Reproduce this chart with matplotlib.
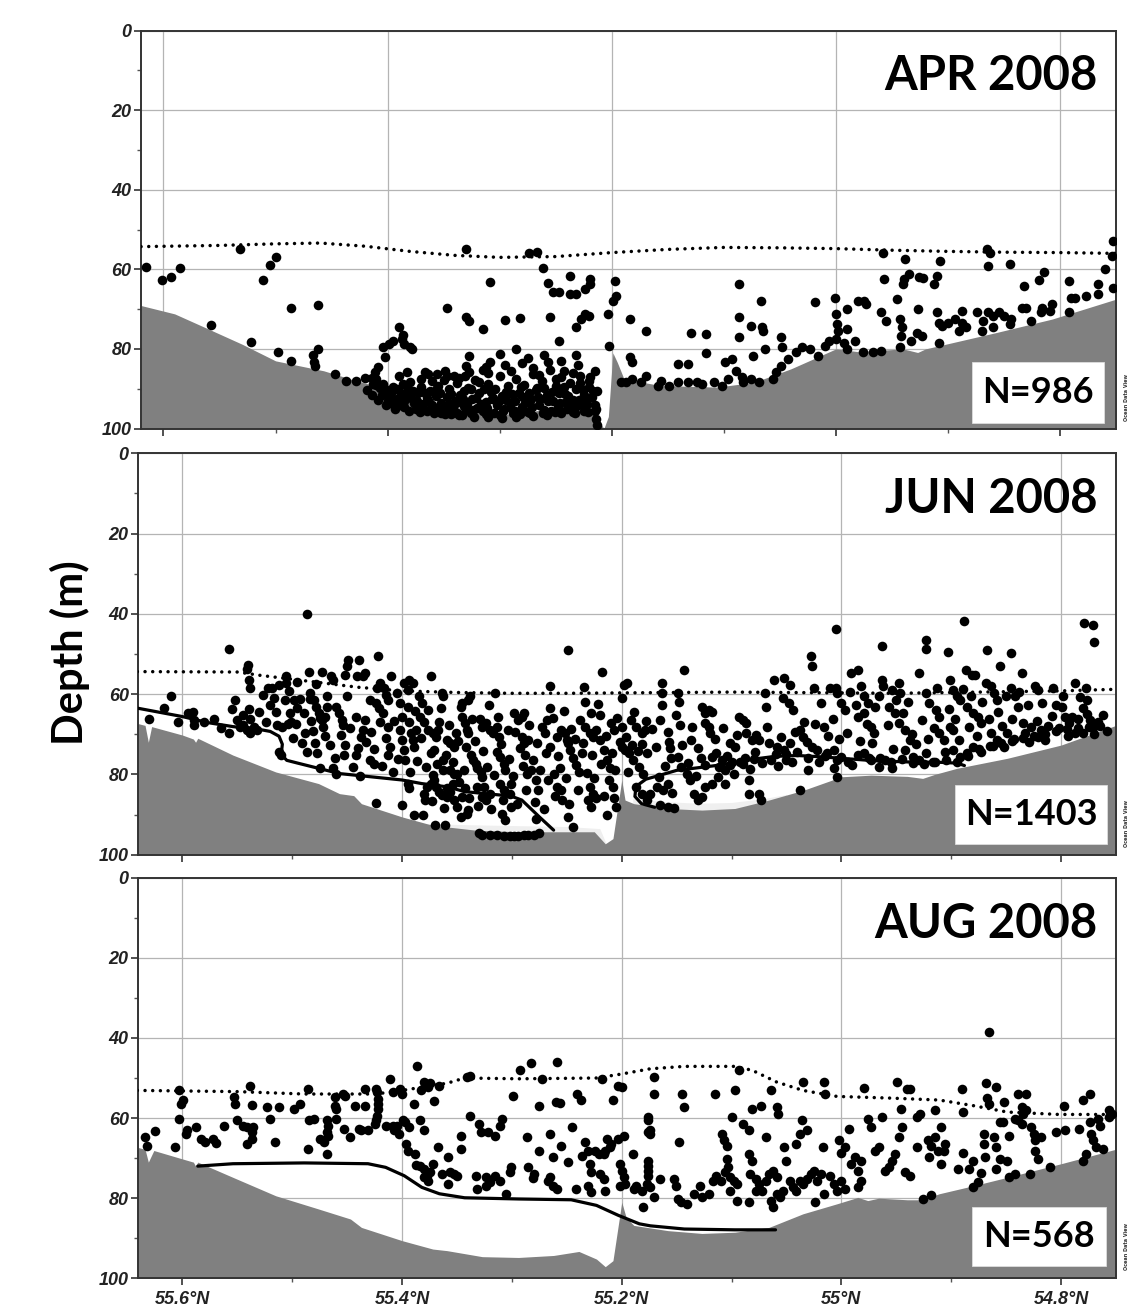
import numpy as np
import matplotlib.pyplot as plt
from matplotlib.patches import Rectangle
from matplotlib.ticker import MultipleLocator, FuncFormatter

# ---------------- APR 2008 ----------------
apr_points = [
    (55.616, 59.4), (55.601, 62.6), (55.593, 62.0), (55.585, 59.7), (55.558, 74.1), (55.532, 54.8),
    (55.522, 78.3), (55.511, 62.8), (55.505, 58.9), (55.500, 56.9), (55.498, 80.7), (55.486, 69.8),
    (55.486, 83.0), (55.467, 81.6), (55.466, 83.2), (55.465, 84.4), (55.462, 68.9), (55.462, 80.0),
    (55.447, 86.3), (55.437, 88.0), (55.428, 88.0), (55.420, 87.2), (55.414, 87.2), (55.411, 85.9),
    (55.409, 84.6), (55.413, 88.8), (55.404, 79.6), (55.402, 82.1), (55.399, 78.8), (55.395, 77.9),
    (55.390, 74.6), (55.387, 77.5), (55.385, 78.8), (55.380, 79.6), (55.378, 80.0), (55.386, 76.5),
    (55.404, 88.8), (55.404, 91.4), (55.398, 90.5), (55.392, 90.1), (55.386, 88.8), (55.383, 85.9),
    (55.367, 85.9), (55.364, 86.3), (55.356, 86.3), (55.349, 85.5), (55.347, 86.7), (55.341, 86.7),
    (55.336, 87.2), (55.331, 86.7), (55.330, 72.0), (55.327, 72.9), (55.347, 69.7), (55.330, 54.8),
    (55.327, 81.7), (55.327, 85.9), (55.315, 75.0), (55.309, 63.2), (55.312, 84.6), (55.309, 83.4),
    (55.295, 72.7), (55.282, 72.2), (55.274, 55.9), (55.267, 55.7), (55.261, 59.7), (55.257, 63.4),
    (55.255, 72.1), (55.252, 65.8), (55.247, 65.8), (55.237, 66.2), (55.232, 66.2), (55.237, 61.7),
    (55.247, 77.9), (55.232, 74.6), (55.227, 72.5), (55.224, 71.3), (55.220, 71.7), (55.224, 65.0),
    (55.219, 62.5), (55.219, 63.7), (55.214, 95.0), (55.214, 97.6), (55.213, 99.2),
    (55.203, 71.3), (55.202, 79.2), (55.199, 67.9), (55.196, 66.7), (55.197, 62.9), (55.184, 72.5),
    (55.184, 82.1), (55.182, 83.4), (55.169, 75.4), (55.129, 76.1), (55.116, 76.3), (55.116, 81.0),
    (55.086, 63.7), (55.086, 72.1), (55.086, 77.1), (55.076, 74.2), (55.067, 67.9), (55.066, 74.6),
    (55.065, 75.6), (55.049, 77.1), (55.048, 79.6), (55.019, 68.3), (55.001, 67.1), (55.000, 71.3),
    (54.999, 73.8), (54.998, 75.4), (54.990, 75.0), (54.990, 70.0), (54.980, 67.9), (54.975, 67.9),
    (54.973, 68.8), (54.960, 70.8), (54.955, 72.9), (54.943, 72.5), (54.941, 74.6), (54.957, 62.5),
    (54.945, 67.5), (54.940, 63.7), (54.939, 62.5), (54.935, 61.2), (54.926, 62.0), (54.922, 62.3),
    (54.938, 57.5), (54.958, 55.8), (54.927, 70.0), (54.928, 75.9), (54.923, 76.7), (54.942, 76.7),
    (54.933, 77.9), (54.910, 61.7), (54.912, 63.7), (54.907, 57.9), (54.910, 70.8), (54.908, 73.4),
    (54.905, 74.2), (54.900, 73.4), (54.908, 78.4), (54.894, 72.5), (54.890, 75.4), (54.887, 73.4),
    (54.884, 74.6), (54.887, 70.4), (54.874, 70.8), (54.870, 75.4), (54.869, 72.9), (54.864, 70.8),
    (54.860, 71.7), (54.860, 74.6), (54.854, 70.8), (54.850, 71.7), (54.845, 73.8), (54.844, 72.5),
    (54.865, 55.0), (54.862, 55.8), (54.864, 59.1), (54.845, 58.6), (54.834, 69.6), (54.832, 64.2),
    (54.830, 69.6), (54.826, 72.9), (54.819, 62.7), (54.814, 60.8), (54.817, 70.8), (54.816, 69.6),
    (54.809, 70.4), (54.807, 68.8), (54.792, 62.9), (54.792, 70.8), (54.790, 67.1), (54.787, 67.1),
    (54.777, 66.7), (54.766, 63.7), (54.766, 66.2), (54.760, 59.8), (54.754, 56.6), (54.753, 52.9),
    (54.753, 64.6),
    (55.192, 88.4), (55.187, 88.4), (55.182, 87.6), (55.174, 88.4), (55.169, 86.7), (55.159, 89.2),
    (55.156, 88.0), (55.149, 89.2), (55.141, 88.4), (55.141, 83.8), (55.132, 83.8), (55.132, 88.4),
    (55.124, 88.4), (55.119, 88.8), (55.109, 88.4), (55.102, 89.2), (55.096, 87.6), (55.099, 83.4),
    (55.093, 82.5), (55.089, 85.5), (55.084, 87.1), (55.083, 88.4), (55.076, 87.6), (55.069, 88.4),
    (55.074, 81.7), (55.063, 80.0), (55.056, 87.6), (55.053, 85.9), (55.049, 84.2), (55.043, 82.5),
    (55.036, 80.9), (55.030, 79.6), (55.023, 80.0), (55.016, 81.7), (55.010, 79.2), (55.006, 77.9),
    (55.000, 77.5), (54.993, 78.4), (54.990, 80.0), (54.983, 77.9), (54.976, 80.9), (54.967, 80.9),
    (54.960, 80.5), (54.943, 79.6),
    # dense patch on the bottom of the basin
    (55.405, 91.5), (55.402, 90.0), (55.398, 92.0), (55.395, 89.5), (55.392, 92.6), (55.388, 91.0),
    (55.385, 93.0), (55.382, 90.2), (55.379, 92.4), (55.376, 93.6), (55.373, 91.2), (55.370, 89.6),
    (55.368, 93.9), (55.365, 92.3), (55.362, 90.5), (55.360, 94.2), (55.357, 91.8), (55.355, 89.3),
    (55.352, 93.5), (55.350, 94.6), (55.347, 92.0), (55.345, 90.1), (55.342, 95.0), (55.340, 93.1),
    (55.338, 88.6), (55.335, 91.5), (55.332, 94.3), (55.330, 95.4), (55.328, 89.9), (55.325, 92.6),
    (55.322, 87.8), (55.320, 94.8), (55.318, 91.0), (55.315, 95.7), (55.312, 93.4), (55.310, 88.9),
    (55.308, 90.8), (55.305, 96.0), (55.302, 94.0), (55.300, 86.9), (55.298, 91.8), (55.296, 95.2),
    (55.293, 89.4), (55.290, 93.6), (55.288, 96.1), (55.285, 87.5), (55.283, 91.1), (55.280, 94.7),
    (55.278, 89.0), (55.275, 95.8), (55.272, 92.5), (55.270, 86.2), (55.268, 90.3), (55.265, 94.2),
    (55.262, 88.0), (55.260, 95.3), (55.258, 91.6), (55.255, 85.4), (55.252, 93.0), (55.250, 89.2),
    (55.248, 94.6), (55.245, 87.1), (55.242, 91.4), (55.240, 95.0), (55.237, 88.5), (55.235, 92.8),
    (55.232, 90.0), (55.230, 94.2), (55.228, 86.8), (55.225, 91.7), (55.222, 93.8), (55.220, 89.5),
    (55.218, 92.2), (55.215, 94.0), (55.410, 89.0), (55.400, 93.2), (55.390, 94.0), (55.380, 88.3),
    (55.370, 94.6), (55.360, 88.0), (55.355, 95.1), (55.345, 93.8), (55.338, 96.0), (55.332, 90.6),
    (55.326, 96.2), (55.318, 88.4), (55.312, 96.4), (55.306, 92.3), (55.300, 96.6), (55.294, 92.9),
    (55.286, 95.5), (55.279, 92.0), (55.273, 96.0), (55.266, 92.2), (55.260, 89.8), (55.254, 95.5),
    (55.247, 91.2), (55.241, 93.3), (55.234, 95.2), (55.228, 88.5), (55.224, 95.0), (55.219, 87.0),
    (55.213, 90.5), (55.330, 84.4), (55.315, 85.2), (55.295, 84.0), (55.280, 83.6), (55.270, 84.8),
    (55.257, 83.2), (55.243, 85.6), (55.230, 84.0), (55.215, 85.5), (55.395, 93.8), (55.385, 94.5),
    (55.375, 95.2), (55.365, 95.6), (55.352, 96.0), (55.343, 96.4), (55.334, 96.7), (55.323, 97.0),
    (55.310, 97.2), (55.298, 97.3), (55.285, 97.0), (55.270, 96.8), (55.258, 96.6), (55.245, 96.0),
    (55.235, 95.8), (55.225, 95.5), (55.215, 95.6),
    (55.418, 90.4), (55.414, 91.6), (55.409, 92.8), (55.407, 89.9), (55.401, 94.0), (55.397, 91.2),
    (55.393, 95.0), (55.389, 92.9), (55.384, 91.8), (55.381, 95.5), (55.377, 90.6), (55.374, 93.1),
    (55.371, 95.8), (55.367, 91.0), (55.363, 93.3), (55.359, 96.0), (55.356, 89.8), (55.353, 91.2),
    (55.349, 96.3), (55.346, 94.7), (55.343, 91.4), (55.339, 93.7), (55.336, 96.6), (55.333, 92.5),
    (55.329, 93.9), (55.326, 90.2), (55.324, 95.3), (55.321, 92.4), (55.317, 93.8), (55.314, 90.1),
    (55.311, 94.9), (55.307, 92.5), (55.304, 90.2), (55.301, 93.2), (55.297, 95.7), (55.294, 90.9),
    (55.291, 94.5), (55.289, 91.4), (55.286, 93.0), (55.282, 96.4), (55.281, 89.6), (55.277, 93.5),
    (55.274, 91.0), (55.271, 94.7), (55.267, 89.9), (55.264, 92.5), (55.261, 96.2), (55.257, 93.1),
    (55.253, 90.8), (55.251, 95.9), (55.246, 93.7), (55.243, 89.5), (55.239, 91.9), (55.236, 94.1),
    (55.233, 96.0), (55.229, 92.8), (55.226, 90.4), (55.223, 93.0), (55.221, 95.9), (55.217, 90.6),
    (55.410, 87.5), (55.390, 86.9), (55.370, 87.5), (55.350, 87.9), (55.310, 86.0), (55.290, 85.6),
    (55.265, 86.5), (55.250, 87.5), (55.235, 86.0), (55.220, 88.0), (55.300, 81.2), (55.285, 80.0),
    (55.275, 82.2), (55.260, 81.5), (55.245, 83.0), (55.232, 81.5),
]
apr_bottom = [
    (55.62, 69.1), (55.59, 71.2), (55.567, 74.1), (55.53, 78.8), (55.50, 83.0), (55.457, 85.5),
    (55.428, 88.0), (55.40, 90.1), (55.368, 93.0), (55.338, 94.7), (55.309, 96.5), (55.28, 96.3),
    (55.255, 94.8), (55.235, 94.5), (55.218, 95.5), (55.212, 98.0), (55.207, 100.0), (55.203, 97.0),
    (55.199, 81.0), (55.195, 83.4), (55.189, 87.6), (55.156, 89.2), (55.106, 89.6), (55.073, 88.4),
    (55.04, 85.0), (55.0, 80.0), (54.98, 80.7), (54.94, 80.0), (54.927, 80.9), (54.92, 80.0),
    (54.857, 75.9), (54.807, 72.5), (54.75, 67.5),
]
apr_dotted = [
    (55.62, 54.3), (55.55, 54.0), (55.50, 53.6), (55.46, 53.4), (55.42, 54.2), (55.38, 55.5),
    (55.34, 56.5), (55.30, 57.0), (55.25, 56.8), (55.20, 55.8), (55.15, 55.0), (55.10, 54.5),
    (55.05, 54.6), (55.00, 54.8), (54.95, 55.2), (54.90, 55.5), (54.85, 55.7), (54.80, 55.8),
    (54.75, 56.0),
]

# ---------------- JUN 2008 ----------------
jun_points = [
    (55.617, 63.4), (55.610, 60.6), (55.595, 64.6), (55.590, 64.4), (55.589, 66.5), (55.589, 67.7),
    (55.571, 66.3), (55.558, 48.8), (55.558, 69.6), (55.555, 63.8), (55.550, 66.5), (55.548, 68.1),
    (55.545, 67.7), (55.541, 69.0), (55.538, 69.8), (55.541, 53.8), (55.540, 52.7), (55.539, 56.5),
    (55.538, 58.4), (55.539, 63.8), (55.538, 66.3), (55.535, 68.3), (55.532, 69.0), (55.522, 58.5),
    (55.518, 58.6), (55.520, 62.7), (55.515, 64.4), (55.512, 57.7), (55.512, 74.4), (55.510, 75.2),
    (55.506, 55.6), (55.506, 57.3), (55.507, 61.4), (55.502, 64.8), (55.501, 66.9), (55.499, 71.0),
    (55.504, 67.4), (55.496, 56.9), (55.498, 61.5), (55.496, 63.5), (55.489, 64.8), (55.487, 40.0),
    (55.488, 69.6), (55.487, 74.4), (55.485, 54.6), (55.484, 59.8), (55.484, 61.2), (55.480, 61.5),
    (55.478, 63.1), (55.476, 64.6), (55.475, 66.0), (55.473, 66.4), (55.470, 65.6), (55.472, 68.1),
    (55.479, 72.3), (55.477, 74.8), (55.475, 78.5), (55.473, 54.4), (55.468, 60.6), (55.468, 63.1),
    (55.465, 55.6), (55.463, 56.5), (55.463, 78.5), (55.460, 79.8), (55.460, 63.1), (55.457, 64.8),
    (55.455, 66.4), (55.454, 67.7), (55.453, 75.2), (55.452, 55.2), (55.450, 53.1), (55.449, 51.5),
    (55.450, 60.6), (55.442, 75.2), (55.440, 73.5), (55.437, 70.6), (55.436, 68.9), (55.441, 55.6),
    (55.439, 51.5), (55.436, 55.6), (55.434, 54.8), (55.442, 65.6), (55.434, 66.4), (55.429, 76.4),
    (55.426, 77.3), (55.424, 87.2), (55.429, 61.4), (55.424, 62.3), (55.421, 63.5), (55.420, 66.9),
    (55.423, 58.5), (55.422, 50.6), (55.420, 57.3), (55.416, 58.5), (55.415, 60.2), (55.413, 61.4),
    (55.413, 68.1), (55.415, 71.0), (55.413, 75.2), (55.410, 55.6), (55.408, 79.3), (55.405, 59.8),
    (55.402, 62.3), (55.400, 65.6), (55.402, 69.0), (55.400, 71.4), (55.398, 73.9), (55.400, 87.7),
    (55.398, 57.3), (55.394, 56.5), (55.390, 57.3), (55.395, 59.0), (55.395, 63.1), (55.394, 66.9),
    (55.392, 69.8), (55.390, 71.4), (55.389, 73.1), (55.387, 68.9), (55.395, 82.3), (55.394, 83.5),
    (55.385, 60.6), (55.382, 62.3), (55.384, 65.6), (55.380, 66.9), (55.380, 84.8), (55.379, 86.4),
    (55.377, 83.1), (55.374, 82.3), (55.389, 90.2), (55.381, 90.2), (55.374, 55.6), (55.376, 69.0),
    (55.372, 69.8), (55.369, 70.6), (55.367, 69.0), (55.374, 74.8), (55.371, 73.9), (55.372, 80.2),
    (55.371, 81.4), (55.369, 83.1), (55.370, 92.7), (55.361, 92.7), (55.366, 84.3), (55.364, 85.2),
    (55.359, 85.6), (55.359, 83.5), (55.356, 84.3), (55.354, 82.3), (55.364, 59.8), (55.363, 60.6),
    (55.366, 66.9), (55.363, 76.4), (55.363, 78.9), (55.359, 71.4), (55.356, 72.3), (55.353, 73.1),
    (55.351, 69.8), (55.356, 78.9), (55.353, 79.8), (55.350, 79.8), (55.353, 86.4), (55.350, 88.1),
    (55.345, 85.6), (55.343, 83.5), (55.346, 90.6), (55.341, 89.8), (55.340, 88.9), (55.346, 63.1),
    (55.345, 62.3), (55.340, 61.4), (55.338, 60.6), (55.345, 65.6), (55.343, 67.3), (55.341, 69.0),
    (55.340, 69.8), (55.337, 75.2), (55.335, 76.4), (55.333, 77.3), (55.332, 78.5), (55.328, 79.3),
    (55.327, 80.6), (55.325, 83.1), (55.332, 83.1), (55.330, 94.6), (55.327, 95.0), (55.320, 95.0),
    (55.314, 95.2), (55.307, 95.4), (55.302, 95.4), (55.298, 95.4), (55.294, 95.4), (55.289, 95.2),
    (55.285, 95.2), (55.280, 95.0), (55.275, 94.6), (55.327, 85.6), (55.324, 86.4), (55.320, 84.8),
    (55.327, 68.1), (55.324, 67.3), (55.320, 69.0), (55.317, 69.8), (55.314, 68.1), (55.312, 70.6),
    (55.315, 59.8), (55.314, 74.4), (55.311, 75.6), (55.307, 77.3), (55.306, 78.9), (55.311, 82.3),
    (55.307, 83.9), (55.302, 84.8), (55.301, 82.3), (55.309, 89.8), (55.306, 91.4), (55.301, 88.1),
    (55.298, 64.8), (55.294, 66.4), (55.291, 65.6), (55.289, 64.8), (55.291, 70.6), (55.289, 72.3),
    (55.288, 75.2), (55.285, 71.4), (55.286, 79.8), (55.283, 78.9), (55.278, 81.4), (55.276, 83.9),
    (55.278, 91.0), (55.273, 68.1), (55.270, 69.8), (55.268, 66.4), (55.265, 73.1), (55.265, 57.9),
    (55.265, 63.5), (55.262, 79.8), (55.259, 83.1), (55.255, 83.9), (55.254, 86.4), (55.259, 70.6),
    (55.255, 69.0), (55.252, 69.8), (55.250, 71.4), (55.249, 72.3), (55.247, 73.9), (55.249, 49.0),
    (55.249, 90.6), (55.244, 93.1), (55.244, 76.0), (55.242, 77.7), (55.239, 79.3), (55.236, 74.8),
    (55.234, 58.3), (55.233, 61.9), (55.233, 68.1), (55.229, 69.8), (55.226, 70.6), (55.223, 69.0),
    (55.229, 83.1), (55.226, 84.8), (55.223, 86.0), (55.228, 88.1), (55.228, 64.8), (55.220, 65.2),
    (55.218, 54.6), (55.220, 71.4), (55.216, 73.9), (55.213, 76.4), (55.211, 78.5), (55.210, 67.3),
    (55.207, 69.0), (55.213, 90.2), (55.208, 83.1), (55.207, 86.0), (55.205, 88.1), (55.202, 71.9),
    (55.200, 73.1), (55.197, 73.9), (55.193, 74.8), (55.200, 61.0), (55.198, 57.7), (55.195, 57.3),
    (55.192, 66.4), (55.187, 68.1), (55.182, 69.8), (55.179, 69.0), (55.190, 76.4), (55.184, 78.1),
    (55.181, 79.8), (55.187, 83.1), (55.182, 84.8), (55.177, 86.4),
    (55.177, 74.8), (55.174, 84.8), (55.168, 83.1), (55.162, 83.9), (55.158, 82.3), (55.165, 87.7),
    (55.158, 88.1), (55.152, 88.5), (55.163, 57.3), (55.163, 59.8), (55.163, 62.7), (55.165, 66.4),
    (55.158, 69.4), (55.157, 71.9), (55.149, 59.8), (55.148, 61.9), (55.147, 67.7), (55.143, 54.0),
    (55.155, 76.0), (55.149, 75.6), (55.146, 78.1), (55.141, 79.8), (55.138, 81.4), (55.137, 71.4),
    (55.131, 73.5), (55.134, 84.8), (55.131, 86.4), (55.127, 85.6), (55.124, 83.1), (55.127, 63.1),
    (55.124, 64.8), (55.121, 63.9), (55.118, 64.4), (55.124, 67.3), (55.121, 68.1), (55.120, 69.8),
    (55.118, 75.6), (55.114, 74.8), (55.109, 76.4), (55.106, 78.9), (55.101, 77.7), (55.112, 80.6),
    (55.106, 82.3), (55.101, 72.3), (55.097, 73.1), (55.093, 65.6), (55.090, 66.4), (55.087, 67.3),
    (55.084, 81.4), (55.084, 84.8), (55.087, 69.8), (55.081, 71.4), (55.078, 70.2), (55.075, 71.4),
    (55.075, 84.8), (55.073, 86.4), (55.070, 59.8), (55.069, 63.1), (55.066, 72.3), (55.059, 73.1),
    (55.052, 73.9), (55.047, 72.3), (55.061, 56.5), (55.052, 56.1), (55.047, 57.7), (55.053, 61.0),
    (55.048, 62.3), (55.044, 63.9), (55.042, 69.4), (55.038, 69.0), (55.035, 70.6), (55.031, 71.9),
    (55.027, 73.1), (55.022, 73.9), (55.038, 83.9), (55.028, 50.6), (55.027, 53.1), (55.025, 58.5),
    (55.019, 62.3), (55.016, 68.1), (55.013, 74.8), (55.007, 73.9), (55.004, 76.4), (55.000, 75.6),
    (54.994, 76.9), (54.990, 77.7), (55.007, 78.5), (55.004, 80.6), (55.010, 58.5), (55.005, 58.5),
    (55.004, 59.8), (55.000, 62.3), (54.997, 64.0), (55.005, 43.8), (54.991, 54.8), (54.985, 54.0),
    (54.982, 58.1), (54.979, 60.6), (54.976, 62.3), (54.985, 65.6), (54.979, 64.8), (54.973, 68.1),
    (54.970, 69.8), (54.979, 74.8), (54.973, 76.4), (54.966, 78.1), (54.960, 76.4), (54.954, 78.5),
    (54.963, 48.1), (54.963, 56.5), (54.962, 58.1), (54.954, 59.0), (54.948, 57.3), (54.947, 59.8),
    (54.957, 63.1), (54.951, 64.8), (54.948, 67.3), (54.942, 69.0), (54.938, 71.4), (54.942, 73.9),
    (54.935, 75.6), (54.929, 76.4), (54.923, 74.8), (54.917, 76.9), (54.929, 54.8), (54.923, 46.5),
    (54.923, 48.8), (54.923, 59.8), (54.920, 62.3), (54.914, 63.9), (54.911, 65.6), (54.911, 69.8),
    (54.907, 71.4), (54.901, 68.1), (54.898, 69.0), (54.903, 49.4), (54.901, 56.5), (54.898, 59.0),
    (54.895, 60.6), (54.892, 61.4), (54.898, 73.9), (54.892, 75.6), (54.886, 74.8), (54.880, 73.1),
    (54.873, 74.4), (54.888, 41.7), (54.887, 54.0), (54.881, 55.2), (54.878, 55.2), (54.886, 63.1),
    (54.880, 64.8), (54.876, 65.6), (54.873, 67.3), (54.867, 49.1), (54.864, 58.1), (54.861, 59.8),
    (54.858, 61.4), (54.856, 53.1), (54.864, 69.8), (54.858, 71.4), (54.852, 73.1), (54.849, 69.8),
    (54.846, 49.8), (54.846, 58.5), (54.842, 60.6), (54.839, 63.1), (54.836, 54.8), (54.833, 69.8),
    (54.827, 68.1), (54.821, 70.6), (54.818, 69.0), (54.815, 71.4), (54.824, 58.1), (54.821, 59.0),
    (54.807, 58.5), (54.805, 62.7), (54.799, 63.1), (54.796, 65.6), (54.793, 67.3), (54.790, 65.6),
    (54.787, 57.3), (54.780, 63.5), (54.779, 42.3), (54.771, 42.7), (54.770, 46.9), (54.777, 58.5),
    (54.776, 61.5), (54.774, 66.4), (54.771, 68.1), (54.768, 67.7), (54.766, 66.9), (54.787, 69.8),
    (54.780, 69.8),
    (55.100, 76.8), (55.090, 77.5), (55.080, 76.2), (55.060, 75.0), (55.050, 76.5), (55.040, 74.5),
    (55.030, 75.8), (55.020, 76.8), (55.015, 75.5), (54.985, 75.2), (54.975, 75.9), (54.965, 76.0),
    (54.955, 77.0), (54.945, 76.2), (54.935, 77.2), (54.925, 77.5), (54.915, 77.0), (54.905, 76.5),
    (54.895, 76.8), (54.885, 75.5), (54.875, 73.8), (54.865, 73.0), (54.855, 72.2), (54.845, 71.6),
    (54.835, 71.0), (54.825, 70.5), (54.815, 70.0), (54.805, 69.2), (54.795, 68.8), (54.785, 68.5),
    (54.775, 68.3), (54.765, 68.0),
    (55.470, 70.5), (55.466, 72.8), (55.461, 75.9), (55.456, 70.2), (55.452, 72.6), (55.447, 68.4),
    (55.445, 78.2), (55.438, 80.3), (55.433, 72.0), (55.428, 69.5), (55.426, 73.8), (55.418, 77.8),
    (55.417, 64.6), (55.411, 73.2), (55.407, 66.8), (55.404, 76.1), (55.397, 76.4), (55.393, 79.5),
    (55.388, 64.2), (55.386, 76.7), (55.383, 70.9), (55.378, 78.2), (55.376, 64.0), (55.373, 86.6),
    (55.368, 77.3), (55.365, 63.4), (55.362, 88.4), (55.360, 75.2), (55.357, 67.7), (55.354, 76.9),
    (55.349, 71.6), (55.348, 82.0), (55.344, 78.9), (55.342, 73.2), (55.339, 85.9), (55.336, 66.3),
    (55.334, 71.6), (55.331, 88.0), (55.329, 66.2), (55.326, 74.3), (55.323, 78.1), (55.321, 62.7),
    (55.319, 88.6), (55.316, 80.2), (55.313, 65.6), (55.310, 72.5), (55.308, 86.3), (55.304, 68.9),
    (55.303, 76.2), (55.299, 80.5), (55.297, 69.4), (55.295, 87.5), (55.293, 73.5), (55.290, 77.8),
    (55.287, 83.8), (55.284, 67.6), (55.281, 76.3), (55.279, 86.9), (55.277, 72.3), (55.274, 78.8),
    (55.271, 88.6), (55.269, 74.7), (55.267, 81.3), (55.263, 66.0), (55.261, 85.4), (55.258, 75.5),
    (55.256, 78.3), (55.253, 64.1), (55.251, 80.9), (55.248, 87.3), (55.246, 68.6), (55.243, 71.3),
    (55.240, 84.0), (55.238, 66.4), (55.235, 72.2), (55.232, 79.6), (55.231, 86.5), (55.227, 75.1),
    (55.225, 80.8), (55.222, 62.4), (55.219, 77.3), (55.216, 85.3), (55.214, 70.5), (55.212, 81.3),
    (55.209, 74.8), (55.206, 78.8), (55.204, 66.0), (55.200, 68.2), (55.196, 70.8), (55.194, 79.3),
    (55.191, 72.8), (55.189, 64.4), (55.185, 74.3), (55.182, 72.5), (55.178, 66.6), (55.172, 68.6),
    (55.169, 73.3), (55.166, 80.6), (55.161, 77.8), (55.156, 73.5), (55.154, 84.6), (55.151, 65.1),
    (55.145, 72.6), (55.140, 77.2), (55.136, 68.2), (55.132, 80.3), (55.128, 75.9), (55.124, 77.6),
    (55.118, 82.4), (55.115, 71.2), (55.111, 78.1), (55.108, 68.5), (55.104, 75.4), (55.098, 79.9),
    (55.095, 70.1), (55.092, 76.9), (55.088, 75.8), (55.083, 78.7), (55.079, 74.4), (55.072, 77.2),
    (55.068, 68.3), (55.064, 76.3), (55.058, 77.9), (55.055, 70.6), (55.050, 74.9), (55.045, 76.9),
    (55.034, 66.9), (55.030, 78.8), (55.024, 67.5), (55.012, 70.5), (55.008, 66.1), (55.002, 71.2),
    (54.995, 69.6), (54.992, 59.5), (54.987, 62.7), (54.983, 71.8), (54.977, 67.4), (54.972, 72.3),
    (54.969, 63.2), (54.966, 60.5), (54.958, 67.6), (54.953, 73.6), (54.950, 61.5), (54.944, 64.6),
    (54.939, 61.9), (54.936, 69.9), (54.932, 72.4), (54.927, 66.5), (54.921, 71.3), (54.916, 68.5),
    (54.913, 58.5), (54.906, 74.4), (54.902, 63.6), (54.897, 66.2), (54.893, 71.5), (54.889, 58.7),
    (54.884, 68.2), (54.882, 60.4), (54.877, 70.5), (54.872, 62.0), (54.868, 57.2), (54.866, 66.1),
    (54.862, 73.0), (54.857, 64.5), (54.854, 67.9), (54.850, 60.5), (54.845, 66.1), (54.843, 71.1),
    (54.838, 59.4), (54.835, 67.2), (54.830, 62.8), (54.829, 72.0), (54.822, 66.7), (54.817, 62.3),
    (54.812, 68.0), (54.808, 65.4), (54.802, 68.5), (54.798, 60.6), (54.794, 70.4), (54.785, 66.2),
    (54.783, 60.8), (54.776, 64.9), (54.770, 70.0), (54.762, 65.1), (54.758, 69.1),
    (55.630, 66.2), (55.604, 67.0), (55.580, 66.9), (55.565, 68.5), (55.552, 61.4), (55.545, 65.1),
    (55.530, 64.4), (55.527, 60.2), (55.524, 67.0), (55.517, 61.0), (55.514, 67.6), (55.509, 68.3),
    (55.503, 59.2), (55.497, 67.4), (55.493, 61.2), (55.491, 72.3), (55.483, 66.6), (55.481, 69.2),
    (55.478, 57.5),
]
jun_bottom = [
    (55.641, 67.3), (55.634, 67.8), (55.631, 72.0), (55.628, 68.1), (55.600, 70.2), (55.590, 71.2),
    (55.588, 72.0), (55.586, 71.0), (55.554, 75.2), (55.515, 79.4), (55.476, 82.3), (55.457, 84.8),
    (55.444, 85.3), (55.437, 87.3), (55.400, 90.6), (55.372, 92.7), (55.333, 93.9), (55.294, 94.3),
    (55.262, 94.3), (55.225, 94.3), (55.215, 97.3), (55.208, 96.0), (55.200, 81.4), (55.197, 86.4),
    (55.189, 87.3), (55.158, 88.5), (55.127, 88.9), (55.097, 88.5), (55.066, 86.4), (55.034, 83.9),
    (55.000, 80.6), (54.973, 80.2), (54.940, 80.5), (54.926, 81.0), (54.915, 80.0), (54.895, 78.5),
    (54.849, 76.0), (54.800, 72.7), (54.749, 67.7),
]
jun_shelf = [
    (55.38, 92.3), (55.33, 92.6), (55.29, 92.8), (55.25, 93.0), (55.22, 93.5), (55.21, 100.0),
    (55.19, 86.0), (55.16, 86.8), (55.13, 87.2), (55.10, 87.0), (55.07, 86.0), (55.05, 85.0),
]
jun_dotted = [
    (55.641, 54.4), (55.55, 54.5), (55.53, 55.3), (55.50, 56.3), (55.47, 57.3), (55.44, 58.3),
    (55.40, 59.2), (55.35, 59.6), (55.30, 59.8), (55.25, 59.8), (55.20, 59.7), (55.15, 59.6),
    (55.10, 59.5), (55.05, 59.6), (55.00, 59.7), (54.95, 59.8), (54.90, 59.6), (54.85, 59.4),
    (54.80, 59.2), (54.75, 58.8),
]
jun_line_a = [
    (55.641, 63.5), (55.600, 65.6), (55.577, 67.1), (55.554, 68.1), (55.528, 68.9), (55.520, 69.3),
    (55.512, 70.5), (55.509, 72.5), (55.510, 75.0), (55.505, 76.5), (55.495, 77.2), (55.457, 79.8),
    (55.400, 81.4), (55.382, 82.3), (55.359, 83.1), (55.343, 84.3), (55.301, 85.4), (55.291, 86.4),
    (55.275, 90.6), (55.262, 93.9),
]
jun_line_b = [
    (55.170, 88.2), (55.182, 87.3), (55.188, 85.5), (55.187, 83.0), (55.178, 81.2), (55.165, 80.2),
    (55.150, 79.0), (55.120, 78.0), (55.100, 77.3), (55.080, 76.2), (55.060, 75.5), (55.040, 75.3),
    (55.020, 75.6), (55.000, 76.0), (54.970, 76.6), (54.940, 76.9), (54.910, 77.0), (54.895, 77.2),
    (54.888, 77.8),
]

# ---------------- AUG 2008 ----------------
aug_points = [
    (55.634, 64.8), (55.632, 67.0), (55.625, 63.3), (55.607, 67.1), (55.603, 53.1), (55.601, 56.5),
    (55.599, 55.6), (55.603, 60.2), (55.597, 63.9), (55.596, 63.1), (55.588, 62.3), (55.583, 65.2),
    (55.579, 66.0), (55.572, 65.2), (55.569, 66.3), (55.562, 61.9), (55.553, 54.8), (55.552, 56.5),
    (55.550, 60.6), (55.545, 61.9), (55.541, 62.3), (55.541, 66.4), (55.537, 65.2), (55.537, 63.5),
    (55.536, 62.3), (55.538, 51.9), (55.537, 56.7), (55.523, 57.3), (55.520, 60.2), (55.512, 57.3),
    (55.516, 66.0), (55.498, 57.7), (55.493, 56.5), (55.486, 52.7), (55.486, 67.7), (55.485, 60.6),
    (55.480, 60.2), (55.475, 65.2), (55.471, 66.0), (55.468, 60.6), (55.467, 61.9), (55.468, 63.5),
    (55.467, 64.5), (55.468, 68.9), (55.461, 54.8), (55.461, 56.9), (55.460, 57.7), (55.454, 54.0),
    (55.452, 54.4), (55.460, 60.2), (55.453, 62.7), (55.447, 64.8), (55.443, 56.9), (55.439, 62.7),
    (55.437, 63.1), (55.434, 52.7), (55.434, 56.9), (55.431, 63.1), (55.424, 60.6), (55.423, 59.4),
    (55.422, 57.7), (55.422, 56.5), (55.422, 55.2), (55.423, 53.5), (55.424, 52.7), (55.425, 61.4),
    (55.411, 50.2), (55.415, 61.9), (55.408, 61.9), (55.405, 61.9), (55.407, 63.1), (55.403, 63.9),
    (55.408, 53.5), (55.402, 52.7), (55.400, 54.0), (55.399, 60.6), (55.397, 61.0), (55.394, 62.3),
    (55.396, 66.4), (55.395, 68.1), (55.389, 56.5), (55.388, 68.9), (55.387, 71.6), (55.384, 71.9),
    (55.380, 72.7), (55.380, 74.8), (55.377, 74.4), (55.376, 75.6), (55.375, 73.5), (55.372, 71.4),
    (55.386, 46.9), (55.384, 60.6), (55.383, 53.0), (55.380, 51.0), (55.376, 52.3), (55.375, 51.3),
    (55.380, 63.1), (55.371, 55.8), (55.367, 67.3), (55.366, 51.9), (55.364, 73.9), (55.358, 69.8),
    (55.356, 73.5), (55.353, 73.9), (55.350, 74.4), (55.358, 76.4), (55.346, 64.4), (55.346, 67.7),
    (55.341, 49.8), (55.338, 49.6), (55.338, 59.4), (55.333, 74.4), (55.332, 77.7), (55.330, 61.4),
    (55.328, 63.5), (55.324, 74.8), (55.324, 76.9), (55.320, 76.0), (55.322, 63.5), (55.315, 74.4),
    (55.311, 75.6), (55.315, 64.4), (55.311, 61.9), (55.309, 60.2), (55.305, 78.9), (55.302, 73.5),
    (55.301, 72.3), (55.299, 54.4), (55.293, 48.1), (55.286, 64.8), (55.285, 72.3), (55.281, 74.9),
    (55.280, 73.9), (55.283, 46.3), (55.275, 56.9), (55.275, 68.1), (55.273, 50.2), (55.265, 74.8),
    (55.267, 75.6), (55.263, 76.9), (55.259, 77.7), (55.265, 63.9), (55.263, 69.8), (55.260, 56.0),
    (55.256, 56.3), (55.259, 46.0), (55.255, 66.9), (55.249, 71.0), (55.245, 62.3), (55.242, 77.7),
    (55.241, 54.0), (55.237, 55.6), (55.236, 69.4), (55.233, 66.0), (55.231, 68.1), (55.229, 71.4),
    (55.228, 73.5), (55.231, 76.9), (55.228, 78.5), (55.224, 68.1), (55.221, 68.9), (55.216, 68.9),
    (55.215, 68.1), (55.211, 67.3), (55.213, 65.2), (55.210, 66.4), (55.218, 50.2), (55.220, 73.9),
    (55.216, 75.2), (55.215, 78.1), (55.208, 55.5), (55.203, 51.9), (55.200, 52.3), (55.203, 65.2),
    (55.198, 64.4), (55.202, 71.4), (55.200, 73.1), (55.198, 74.8), (55.197, 76.4), (55.202, 76.9),
    (55.190, 69.0), (55.189, 77.7), (55.187, 76.9), (55.182, 78.1), (55.181, 82.3), (55.176, 59.8),
    (55.176, 63.5), (55.176, 74.4),
    (55.176, 60.6), (55.174, 63.1), (55.174, 64.0), (55.176, 70.6), (55.176, 71.9), (55.176, 73.1),
    (55.177, 76.4), (55.174, 77.3), (55.171, 49.8), (55.171, 54.0), (55.171, 79.8), (55.165, 75.2),
    (55.152, 75.2), (55.151, 76.9), (55.149, 80.2), (55.146, 81.0), (55.141, 81.4), (55.148, 66.0),
    (55.145, 54.0), (55.143, 57.3), (55.134, 78.9), (55.129, 76.9), (55.127, 79.8), (55.121, 78.9),
    (55.117, 75.6), (55.114, 74.4), (55.110, 75.6), (55.115, 54.0), (55.109, 63.9), (55.107, 65.6),
    (55.104, 66.9), (55.104, 70.2), (55.103, 72.3), (55.106, 73.5), (55.101, 74.8), (55.098, 75.6),
    (55.095, 76.4), (55.101, 78.1), (55.100, 59.8), (55.097, 53.1), (55.095, 80.6), (55.084, 81.0),
    (55.090, 61.4), (55.084, 63.1), (55.084, 69.0), (55.081, 70.6), (55.083, 73.9), (55.093, 48.1),
    (55.081, 57.7), (55.073, 56.9), (55.078, 75.2), (55.075, 76.4), (55.072, 78.1), (55.069, 75.6),
    (55.066, 73.9), (55.078, 78.1), (55.069, 64.8), (55.064, 53.1), (55.062, 73.1), (55.059, 74.8),
    (55.059, 78.9), (55.064, 80.6), (55.062, 82.3), (55.056, 79.8), (55.053, 78.1), (55.059, 57.3),
    (55.058, 58.9), (55.052, 67.3), (55.050, 70.6), (55.047, 75.6), (55.044, 77.3), (55.041, 78.1),
    (55.038, 75.6), (55.035, 76.4), (55.031, 75.2), (55.041, 66.4), (55.038, 63.9), (55.036, 60.6),
    (55.035, 51.0), (55.031, 63.1), (55.028, 73.9), (55.025, 73.1), (55.022, 75.6), (55.019, 73.9),
    (55.016, 78.9), (55.024, 81.0), (55.017, 67.3), (55.016, 51.0), (55.015, 54.0), (55.010, 74.4),
    (55.007, 76.4), (55.004, 78.1), (55.000, 75.6), (54.997, 77.7), (55.002, 65.6), (55.000, 68.6),
    (54.997, 67.3), (54.993, 62.7), (54.991, 71.4), (54.988, 69.8), (54.985, 73.1), (54.982, 70.6),
    (54.985, 77.3), (54.982, 75.6), (54.979, 52.5), (54.976, 60.2), (54.973, 62.3), (54.969, 68.1),
    (54.966, 67.3), (54.963, 59.8), (54.960, 73.1), (54.957, 72.3), (54.954, 70.6), (54.951, 68.9),
    (54.948, 64.8), (54.949, 51.0), (54.946, 57.8), (54.940, 52.8), (54.938, 52.7), (54.945, 62.3),
    (54.942, 73.5), (54.938, 74.4), (54.931, 67.3), (54.931, 59.8), (54.928, 58.9), (54.921, 65.6),
    (54.920, 69.8), (54.918, 66.9), (54.926, 80.2), (54.918, 79.3), (54.915, 58.1), (54.915, 64.8),
    (54.912, 68.1), (54.909, 62.3), (54.909, 71.4), (54.907, 68.1), (54.906, 66.4), (54.894, 72.7),
    (54.889, 68.6), (54.890, 52.7), (54.889, 58.6), (54.884, 72.7), (54.880, 70.6), (54.880, 77.3),
    (54.876, 76.0), (54.873, 73.6), (54.870, 63.9), (54.870, 66.4), (54.869, 69.8), (54.868, 51.3),
    (54.867, 54.9), (54.866, 56.5), (54.866, 38.6), (54.861, 64.8), (54.859, 67.3), (54.859, 72.7),
    (54.856, 70.2), (54.859, 52.3), (54.856, 61.0), (54.853, 61.0), (54.852, 56.0), (54.849, 70.6),
    (54.847, 74.8), (54.842, 73.9), (54.847, 64.4), (54.842, 60.2), (54.839, 60.6), (54.836, 61.4),
    (54.839, 53.9), (54.832, 53.9), (54.836, 57.3), (54.835, 58.9), (54.832, 58.1), (54.828, 73.9),
    (54.827, 62.3), (54.825, 63.9), (54.824, 65.6), (54.824, 68.1), (54.821, 70.2), (54.818, 64.8),
    (54.810, 72.3), (54.805, 63.5), (54.797, 56.9), (54.796, 63.1), (54.784, 62.7), (54.780, 55.6),
    (54.780, 70.6), (54.777, 69.0), (54.774, 53.9), (54.774, 61.0), (54.773, 63.9), (54.771, 65.6),
    (54.768, 67.3), (54.765, 61.9), (54.766, 60.2), (54.762, 67.7), (54.756, 58.1), (54.756, 59.8),
    (54.754, 59.0),
]
aug_bottom = [
    (55.641, 67.3), (55.634, 67.8), (55.631, 71.0), (55.626, 68.1), (55.600, 70.2), (55.590, 71.0),
    (55.588, 72.0), (55.586, 71.0), (55.554, 74.8), (55.515, 79.4), (55.476, 82.7), (55.447, 85.2),
    (55.437, 87.3), (55.400, 90.6), (55.372, 92.7), (55.359, 93.1), (55.327, 94.6), (55.294, 94.8),
    (55.262, 94.3), (55.239, 93.3), (55.223, 95.2), (55.215, 97.1), (55.208, 95.6), (55.200, 81.0),
    (55.196, 84.8), (55.189, 86.8), (55.158, 88.1), (55.127, 88.8), (55.097, 88.5), (55.066, 87.3),
    (55.035, 83.9), (55.004, 81.4), (54.985, 79.8), (54.976, 80.6), (54.966, 80.0), (54.940, 80.4),
    (54.926, 80.4), (54.911, 78.9), (54.880, 76.9), (54.849, 74.8), (54.800, 71.4), (54.749, 67.7),
]
aug_dotted = [
    (55.641, 53.1), (55.55, 53.4), (55.489, 54.0), (55.424, 54.0), (55.40, 53.1), (55.359, 51.3),
    (55.343, 50.0), (55.294, 50.2), (55.223, 50.0), (55.20, 49.0), (55.174, 47.7), (55.143, 47.1),
    (55.097, 47.1), (55.081, 48.1), (55.059, 51.0), (55.035, 53.1), (55.004, 54.6), (54.957, 55.0),
    (54.911, 55.5), (54.88, 56.9), (54.849, 58.5), (54.802, 59.1), (54.749, 59.1),
]
aug_line = [
    (55.586, 72.0), (55.554, 71.4), (55.489, 71.2), (55.431, 71.4), (55.415, 72.3), (55.398, 74.4),
    (55.382, 77.3), (55.366, 78.9), (55.343, 79.9), (55.294, 80.2), (55.246, 80.4), (55.223, 81.8),
    (55.203, 84.3), (55.184, 86.4), (55.174, 86.9), (55.143, 87.7), (55.097, 87.9), (55.060, 87.9),
]

titles = ["APR 2008", "JUN 2008", "AUG 2008"]
counts = ["N=986", "N=1403", "N=568"]

fig = plt.figure(figsize=(11.33, 13.10), dpi=100)

panels = [
    dict(pos=[0.1245, 0.6729, 0.8605, 0.3038], xl=55.62, pts=apr_points, bot=apr_bottom,
         shelf=None, dot=apr_dotted, lines=[], box=(0.852, 0.014, 0.136, 0.153)),
    dict(pos=[0.1222, 0.3476, 0.8628, 0.3064], xl=55.64, pts=jun_points, bot=jun_bottom,
         shelf=jun_shelf, dot=jun_dotted, lines=[jun_line_a, jun_line_b], box=(0.835, 0.027, 0.156, 0.147)),
    dict(pos=[0.1222, 0.0242, 0.8628, 0.3058], xl=55.64, pts=aug_points, bot=aug_bottom,
         shelf=None, dot=aug_dotted, lines=[aug_line], box=(0.853, 0.031, 0.137, 0.147)),
]

tickfont = dict(family="Liberation Sans", weight="bold", style="italic", size=13)

for i, p in enumerate(panels):
    ax = fig.add_axes(p["pos"])
    ax.set_axisbelow(True)
    bl, bd = zip(*p["bot"])
    if p["shelf"] is not None:
        sl, sd = zip(*p["shelf"])
        ax.fill_between(sl[:6], sd[:6], 100, color="#efefef", lw=0, zorder=1.5)
        ax.fill_between(sl[6:], sd[6:], 100, color="#efefef", lw=0, zorder=1.5)
    ax.fill_between(bl, bd, 100, color="#808080", lw=0, zorder=2)
    dl, dd = zip(*p["dot"])
    ax.plot(dl, dd, color="black", lw=2.5, ls=(0, (0.01, 2.2)), dash_capstyle="round", zorder=3)
    for ln in p["lines"]:
        ll, ld = zip(*ln)
        ax.plot(ll, ld, color="black", lw=2.3, solid_capstyle="round", zorder=3)
    pl, pd_ = zip(*p["pts"])
    ax.scatter(pl, pd_, s=48, c="black", lw=0, zorder=4)

    ax.set_xlim(p["xl"], 54.75)
    ax.set_ylim(100, 0)
    ax.xaxis.set_major_locator(MultipleLocator(0.2))
    ax.xaxis.set_minor_locator(MultipleLocator(0.1))
    ax.yaxis.set_major_locator(MultipleLocator(20))
    ax.yaxis.set_minor_locator(MultipleLocator(10))
    ax.grid(True, which="major", color="#b4b4b4", lw=0.9)
    ax.tick_params(which="major", length=5, width=1.2, color="#333333")
    ax.tick_params(axis="y", which="major", pad=2)
    ax.tick_params(axis="x", which="major", pad=4)
    ax.tick_params(which="minor", length=3, width=1.0, color="#555555")
    for s in ax.spines.values():
        s.set_color("#333333")
        s.set_linewidth(1.4)
    ax.set_yticks([0, 20, 40, 60, 80, 100])
    ax.set_yticklabels(["0", "20", "40", "60", "80", "100"], fontdict=tickfont, color="#222222")
    if i == 2:
        ax.xaxis.set_major_formatter(FuncFormatter(lambda v, _: f"{round(v, 1):g}°N"))
        for lab in ax.get_xticklabels():
            lab.set(**tickfont)
            lab.set_color("#222222")
    else:
        ax.set_xticklabels([])

    ax.text(0.981, 0.85, titles[i], transform=ax.transAxes, ha="right", va="baseline",
            fontsize=34, fontweight="bold", family="Lato", color="black", zorder=6)
    bx, by, bw, bh = p["box"]
    ax.add_patch(Rectangle((bx, by), bw, bh, transform=ax.transAxes, facecolor="white",
                           edgecolor="#dddddd", lw=0.6, zorder=5))
    ax.text(bx + bw / 2, by + bh / 2, counts[i], transform=ax.transAxes, ha="center",
            va="center", fontsize=26, fontweight="bold", family="Lato", zorder=6)
    ax.text(1.008, 0.02, "Ocean Data View", transform=ax.transAxes, rotation=90,
            fontsize=3.5, fontweight="bold", ha="left", va="bottom", color="#333333")

fig.text(0.0618, 0.502, "Depth (m)", rotation=90, ha="center", va="center",
         fontsize=30, fontweight="bold", family="Lato")

fig.savefig("out.png", dpi=100)
